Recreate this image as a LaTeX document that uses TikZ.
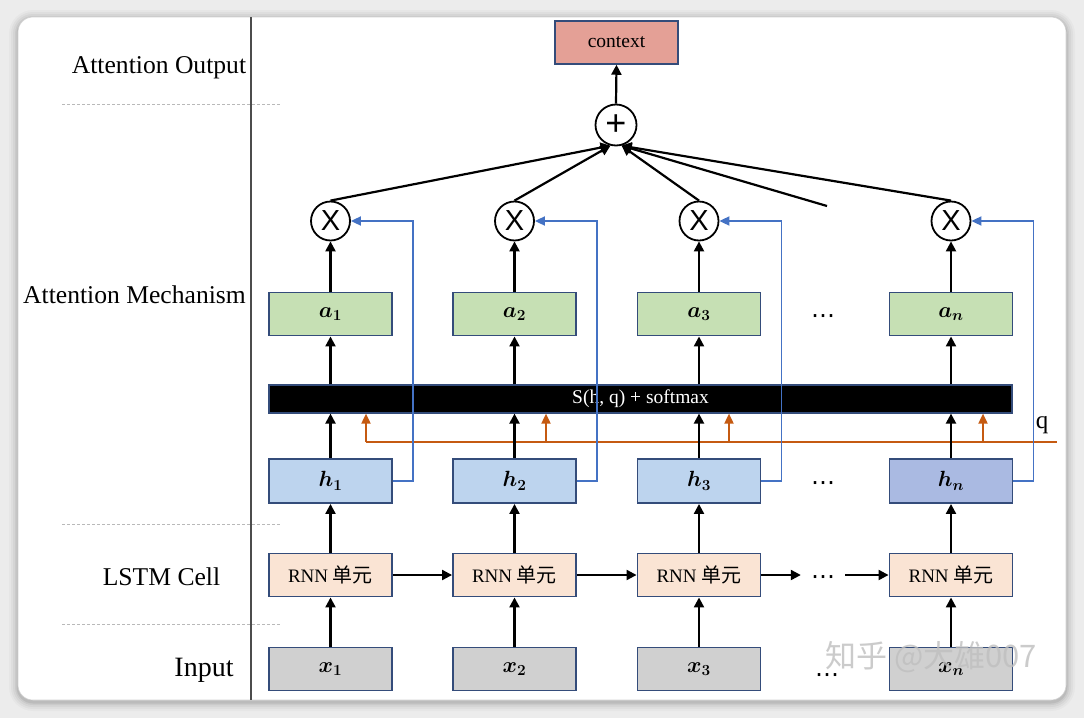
\documentclass[tikz,border=0pt]{standalone}
\usepackage{fix-cm}
\usepackage{fontspec}
\setmainfont{Liberation Serif}
\newfontfamily\cjk{Noto Sans CJK SC}
\newfontfamily\arialf{Liberation Sans}
\newfontfamily\djv{DejaVu Sans}
\usetikzlibrary{arrows.meta}
\definecolor{bgc}{RGB}{236,236,236}
\definecolor{bord}{RGB}{52,76,122}
\definecolor{xfill}{RGB}{208,208,208}
\definecolor{rfill}{RGB}{250,228,212}
\definecolor{hfill}{RGB}{189,212,238}
\definecolor{hnfill}{RGB}{170,186,226}
\definecolor{afill}{RGB}{198,224,180}
\definecolor{cfill}{RGB}{228,160,150}
\definecolor{bluec}{RGB}{68,114,196}
\definecolor{orc}{RGB}{197,90,17}
\begin{document}
\begin{tikzpicture}[x=1pt,y=-1pt,
  box/.style={draw=bord, line width=1.9pt, minimum width=123pt, minimum height=43pt, inner sep=0pt, font=\fontsize{22}{26}\selectfont\boldmath},
  arr/.style={draw=black, line width=2.2pt, -{Triangle[length=10pt,width=10pt]}},
  bluearr/.style={draw=bluec, line width=1.8pt, -{Triangle[length=10pt,width=9pt]}},
  orarr/.style={draw=orc, line width=1.8pt, -{Triangle[length=10pt,width=9pt]}},
  opcirc/.style={circle, draw=black, line width=1.8pt, fill=white, minimum size=39pt, inner sep=0pt},
  lab/.style={font=\fontsize{25.6}{30}\selectfont, inner sep=0pt},
  sepline/.style={draw=gray!55, line width=0.8pt, dash pattern=on 3pt off 2pt},
  dotsn/.style={font=\djv\fontsize{24}{26}\selectfont, inner sep=0pt},
  rnntext/.style={font=\fontsize{19}{22}\selectfont}
]
% background and card
\fill[bgc] (0,0) rectangle (1084,718);
\useasboundingbox (0,0) rectangle (1084,718);
\foreach \k/\r/\op in {9/24/0.025,7/22/0.03,5/20/0.04,3/18/0.05,1.5/16.5/0.07}
  \fill[black, opacity=\op, rounded corners=\r pt] (18-\k,17-\k+2) rectangle (1066+\k,700+\k+2);
\filldraw[fill=white, draw=gray!35, line width=0.6pt, rounded corners=15pt] (18,17) rectangle (1066,700);
% divider and separators
\draw[gray!60!black, line width=1.3pt] (251,17) -- (251,700);
\draw[sepline] (62,104) -- (281,104);
\draw[sepline] (62,524) -- (281,524);
\draw[sepline] (62,624) -- (281,624);
% row labels
\node[lab] (lao) at (159,68) {Attention Output};
\node[lab] (lam) at (134.5,295) {Attention Mechanism};
\node[lab] (llc) at (161.5,577) {LSTM Cell};
\node[lab, font=\fontsize{28}{32}\selectfont] (lin) at (204,670) {Input};
% columns
\foreach \i/\cx/\hf/\qx in {1/330.5/hfill/366, 2/514.5/hfill/546, 3/699/hfill/729, n/951/hnfill/983} {
  \node[box, fill=xfill] (x\i) at (\cx,669) {$x_{\i}$};
  \node[box, fill=rfill, rnntext] (r\i) at (\cx,575) {RNN {\cjk\fontsize{20}{22}\selectfont 单元}};
  \node[box, fill=\hf, minimum height=44pt] (h\i) at (\cx,481) {$h_{\i}$};
  \node[box, fill=afill] (a\i) at (\cx,314) {$a_{\i}$};
  \node[opcirc] (m\i) at (\cx,221) {\arialf\fontsize{29}{30}\selectfont X};
  \coordinate (q\i) at (\qx,442);
}
% softmax bar
\node[draw=bord, line width=1.2pt, fill=black, minimum width=743pt, minimum height=28pt, inner sep=0pt, text=white, font=\fontsize{19.5}{22}\selectfont] (bar) at (640.5,399) {S(h, q) + softmax};
% plus and context
\node[opcirc, minimum size=41pt] (plus) at (616,125) {\arialf\fontsize{36}{36}\selectfont +};
\node[draw=bord, line width=1.5pt, fill=cfill, minimum width=123pt, minimum height=43pt, inner sep=0pt, font=\fontsize{19.5}{22}\selectfont] (ctx) at (616.5,42.5) {context};
% q line
\coordinate (qend) at (1057,442);
\draw[orc, line width=1.8pt] (q1) -- (qend);
\node[font=\fontsize{25}{26}\selectfont, inner sep=0pt] (qlab) at (1042,425) {q};
% vertical connectors
\foreach \i in {1,2,3,n} {
  \draw[orarr] (q\i) -- (q\i |- bar.south);
  \draw[arr] (x\i.north) -- (r\i.south);
  \draw[arr] (r\i.north) -- (h\i.south);
  \draw[arr] (h\i.north) -- (h\i.north |- bar.south);
  \draw[arr] (a\i.south |- bar.north) -- (a\i.south);
  \draw[arr] (a\i.north) -- (m\i.south);
  \draw[bluearr] (h\i.east) -- ++(20,0) |- (m\i.east);
}
% to the sum
\coordinate (dang) at (827,206);
\draw[arr] (m1.north) -- (plus.255);
\draw[arr] (m2.north) -- (plus.255);
\draw[arr] (m3.north) -- (plus.285);
\draw[arr] (dang) -- (plus.285);
\draw[arr] (mn.north) -- (plus.285);
\draw[arr] (plus.north) -- (ctx.south);
% RNN chain
\node[dotsn, inner xsep=10pt] (rd) at (823,580) {⋯};
\draw[arr] (r1.east) -- (r2.west);
\draw[arr] (r2.east) -- (r3.west);
\draw[arr] (r3.east) -- (rd.west |- r3.east);
\draw[arr] (rd.east |- rn.west) -- (rn.west);
% other ellipses
\node[dotsn] (ad) at (823,319) {⋯};
\node[dotsn] (hd) at (823,486) {⋯};
\node[dotsn] (xd) at (827,678) {⋯};
% watermark
\node[font=\cjk\fontsize{31}{34}\selectfont, text=gray!50, opacity=0.8, inner sep=0pt] (wm) at (931,657) {知乎 @大雄007};
\end{tikzpicture}
\end{document}
